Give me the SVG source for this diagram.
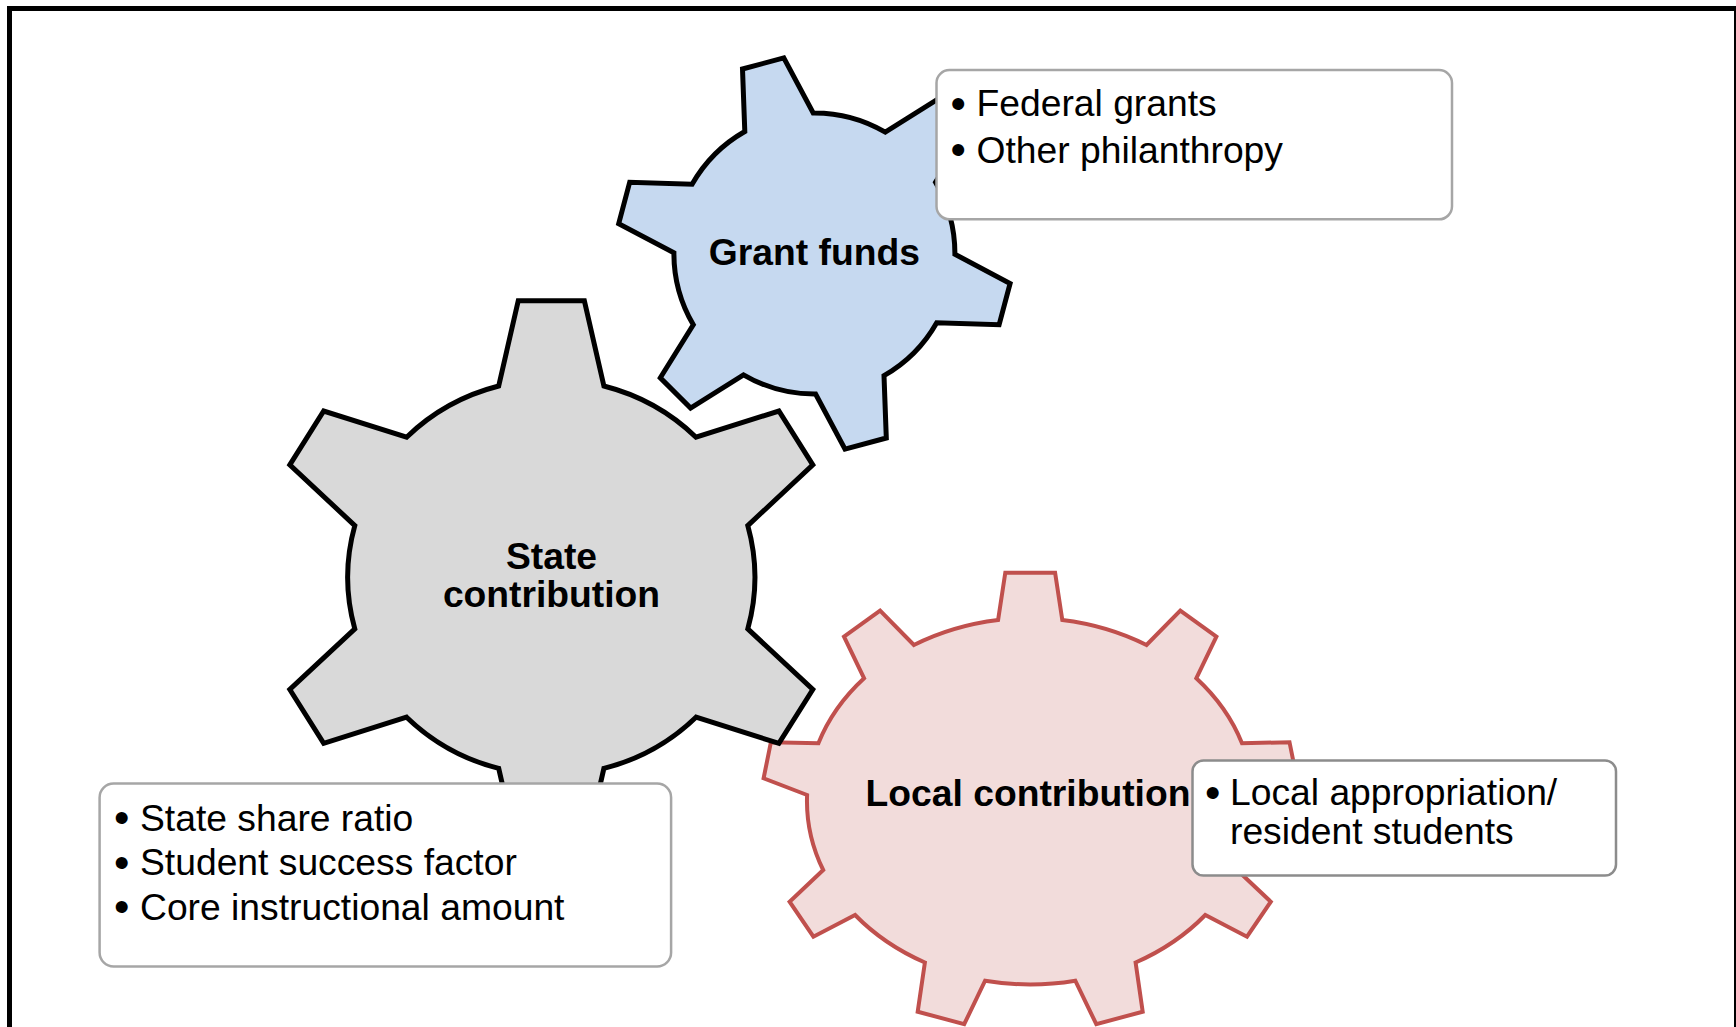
<svg xmlns="http://www.w3.org/2000/svg" width="1736" height="1027" viewBox="0 0 1736 1027">
  <style>
    .frame { fill: none; stroke: #000; stroke-width: 5; }
    .gear { stroke-linejoin: miter; stroke-miterlimit: 10; }
    .gear-gray { fill: #D9D9D9; stroke: #000; stroke-width: 5; }
    .gear-blue { fill: #C6D9F0; stroke: #000; stroke-width: 5; }
    .gear-red { fill: #F2DCDB; stroke: #C0504D; stroke-width: 4; }
    .label { font-family: "Liberation Sans", Arial, sans-serif; font-size: 37.25px; font-weight: bold; fill: #000; text-anchor: middle; }
    .box { fill: #fff; stroke: #A6A6A6; stroke-width: 2.5; }
    .box-dark { stroke: #8C8C8C; }
    .item { font-family: "Liberation Sans", Arial, sans-serif; font-size: 37.25px; fill: #000; }
    .bullet { font-size: 44px; }
  </style>

  <!-- outer frame, open at the bottom edge -->
  <rect class="frame" x="9.5" y="8.5" width="1727" height="1100"/>

  <!-- nine-tooth gear -->
  <g id="gear-local">
    <path class="gear gear-red" d="M 998.1,620 L 1005.3,572.7 L 1055.1,572.7 L 1062.3,620
      A 225 184.5 0 0 1 1146.5,645 L 1180.3,610.7 L 1216.4,636.7 L 1196.3,678.3
      A 225 184.5 0 0 1 1242,743.3 L 1289.5,742.2 L 1296.8,778.3 L 1253.3,795
      A 225 184.5 0 0 1 1237.2,870 L 1270.8,901.7 L 1247,936.7 L 1205.3,915
      A 225 184.5 0 0 1 1135.6,962.5 L 1142.7,1011.7 L 1096.3,1024.2 L 1075.3,980.7
      A 225 184.5 0 0 1 985.1,980.7 L 964.2,1024.2 L 917.7,1011.7 L 924.9,962.5
      A 225 184.5 0 0 1 855.1,915 L 813.4,936.7 L 789.6,901.7 L 823.2,870
      A 225 184.5 0 0 1 807.1,795 L 763.6,778.3 L 770.9,742.2 L 818.4,743.3
      A 225 184.5 0 0 1 864.1,678.3 L 844,636.7 L 880.1,610.7 L 913.9,645
      A 225 184.5 0 0 1 998.1,620 Z"/>
    <text class="label" x="1028" y="806">Local contribution</text>
  </g>

  <!-- large six-tooth gear -->
  <g id="gear-state">
    <path class="gear gear-gray" d="M 498.7,386 L 518.25,300.7 L 584.35,300.7 L 603.9,386
      A 204 198 0 0 1 696,437.2 L 778.9,411 L 812.8,464.9 L 747.8,525.55
      A 204 198 0 0 1 747.8,628.85 L 812.8,689.5 L 778.9,743.4 L 696,717.2
      A 204 198 0 0 1 603.9,768.4 L 584.35,853.7 L 518.25,853.7 L 498.7,768.4
      A 204 198 0 0 1 406.6,717.2 L 323.7,743.4 L 289.8,689.5 L 354.8,628.85
      A 204 198 0 0 1 354.8,525.55 L 289.8,464.9 L 323.7,411 L 406.6,437.2
      A 204 198 0 0 1 498.7,386 Z"/>
    <text class="label" x="551.5" y="568.5">State</text>
    <text class="label" x="551.5" y="607">contribution</text>
  </g>

  <!-- small six-tooth gear, rotated -->
  <g id="gear-grant">
    <path class="gear gear-blue" d="M 744.8,131.5 L 742.5,69 L 783.8,57.9 L 813.2,113
      A 140.5 140.5 0 0 1 885.3,132.2 L 938.2,99 L 968.5,129.2 L 935.5,182.2
      A 140.5 140.5 0 0 1 954.9,254.2 L 1010.1,283.5 L 999.1,324.8 L 936.7,322.7
      A 140.5 140.5 0 0 1 884,375.6 L 886.3,438 L 845,449.1 L 815.6,394
      A 140.5 140.5 0 0 1 743.5,374.8 L 690.6,408 L 660.3,377.8 L 693.3,324.8
      A 140.5 140.5 0 0 1 673.9,252.8 L 618.7,223.6 L 629.7,182.2 L 692.1,184.3
      A 140.5 140.5 0 0 1 744.8,131.5 Z"/>
    <text class="label" x="814.4" y="265">Grant funds</text>
  </g>

  <!-- callout boxes; each bullet is a larger tspan on its own line -->
  <g id="box-grant">
    <rect class="box" x="936.5" y="70" width="515.5" height="149.3" rx="13"/>
    <text class="item" x="950.5" y="116"><tspan class="bullet" dy="2.5">•</tspan><tspan x="976.5" dy="-2.5">Federal grants</tspan></text>
    <text class="item" x="950.5" y="162.5"><tspan class="bullet" dy="2.5">•</tspan><tspan x="976.5" dy="-2.5">Other philanthropy</tspan></text>
  </g>

  <g id="box-state">
    <rect class="box" x="99.6" y="783.5" width="571.5" height="183" rx="14"/>
    <text class="item" x="114" y="830.5"><tspan class="bullet" dy="2.5">•</tspan><tspan x="140" dy="-2.5">State share ratio</tspan></text>
    <text class="item" x="114" y="875"><tspan class="bullet" dy="2.5">•</tspan><tspan x="140" dy="-2.5">Student success factor</tspan></text>
    <text class="item" x="114" y="919.5"><tspan class="bullet" dy="2.5">•</tspan><tspan x="140" dy="-2.5">Core instructional amount</tspan></text>
  </g>

  <g id="box-local">
    <rect class="box box-dark" x="1192.5" y="760.5" width="423.5" height="115" rx="11"/>
    <text class="item" x="1205" y="805"><tspan class="bullet" dy="2.5">•</tspan><tspan x="1230" dy="-2.5">Local appropriation/</tspan><tspan x="1230" dy="38.5">resident students</tspan></text>
  </g>

  <g id="connectors"/>
</svg>
